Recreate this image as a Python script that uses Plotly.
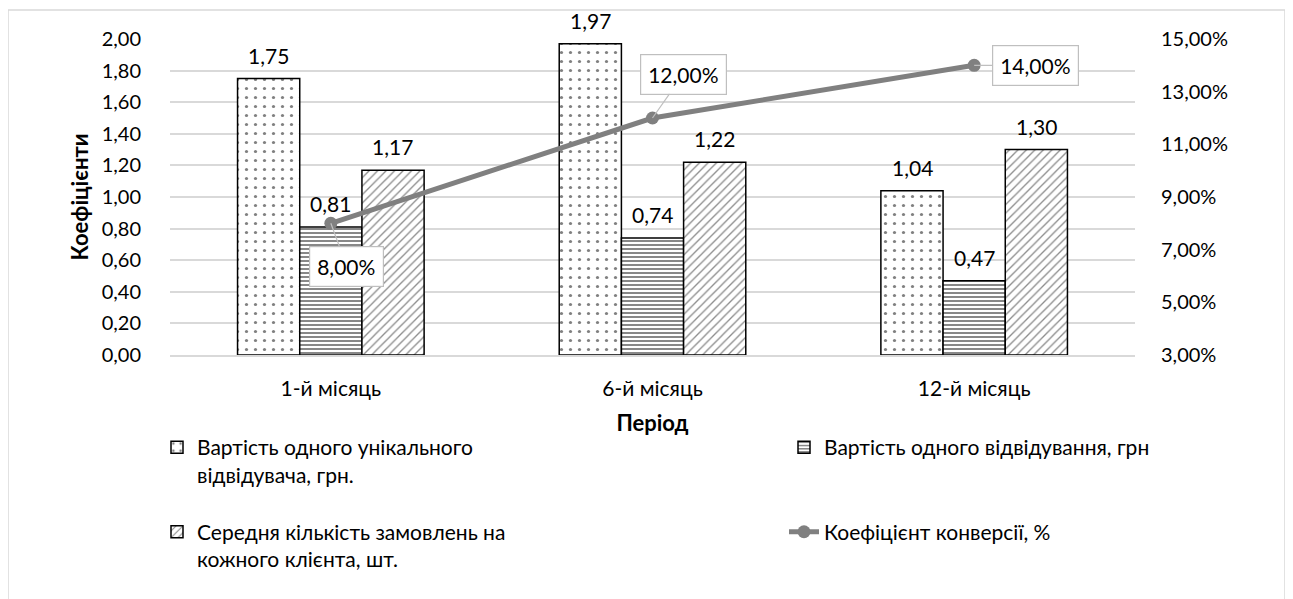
import plotly.graph_objects as go

categories = ["1-й місяць", "6-й місяць", "12-й місяць"]
unique_visitor_cost = [1.75, 1.97, 1.04]
visit_cost = [0.81, 0.74, 0.47]
orders_per_client = [1.17, 1.22, 1.30]
conversion_rate = [0.08, 0.12, 0.14]

series_names = [
    "Вартість одного унікального<br>відвідувача, грн.",
    "Вартість одного відвідування, грн<br>&nbsp;",
    "Середня кількість замовлень на<br>кожного клієнта, шт.",
    "Коефіцієнт конверсії, %<br>&nbsp;",
]
legend_ids = ["legend", "legend2", "legend", "legend2"]

FONT = "Lato"
FS_NUM = 20
FS_LBL = 21
FS_TXT = 21
FS_TITLE = 22

# page coordinates of plot area (body has 8px margin)
OFF = 8
PX0, PX1, PY0, PY1 = 170, 1135, 39, 355
W, H = 1293 - OFF, 599 - OFF
L = PX0 - OFF
T = PY0 - OFF
PW = PX1 - PX0
PH = PY1 - PY0
R = W - L - PW
B = H - T - PH

def px_x(p):
    return (p - PX0) / PW

def px_y(p):
    return (PY1 - p) / PH

fig = go.Figure()

patterns = [
    dict(shape=".", fgcolor="#808080", bgcolor="white", size=9, solidity=0.1, fillmode="replace"),
    dict(shape="-", fgcolor="#7a7a7a", bgcolor="white", size=4, solidity=0.45, fillmode="replace"),
    dict(shape="/", fgcolor="#8c8c8c", bgcolor="white", size=6, solidity=0.22, fillmode="replace"),
]
bar_series = [unique_visitor_cost, visit_cost, orders_per_client]
for i, vals in enumerate(bar_series):
    fig.add_trace(go.Bar(
        x=categories, y=vals, name=series_names[i],
        marker=dict(color="white", line=dict(color="black", width=1.5), pattern=patterns[i]),
        yaxis="y", legend=legend_ids[i], legendgroup=f"g{i}",
    ))

fig.add_trace(go.Scatter(
    x=categories, y=conversion_rate, name=series_names[3], yaxis="y2",
    mode="lines+markers",
    line=dict(color="#808080", width=5),
    marker=dict(color="#808080", size=13),
    legend=legend_ids[3], legendgroup="g3",
))

annotations = []
offsets = [-62, 0, 62]
for i, vals in enumerate(bar_series):
    for c, v in zip(categories, vals):
        annotations.append(dict(
            x=c, y=v, xref="x", yref="y", text=f"{v:.2f}".replace(".", ","),
            showarrow=False, xshift=offsets[i], yshift=9, yanchor="bottom",
            font=dict(family=FONT, size=FS_LBL, color="black"),
        ))

callout_offsets = [(16, 43), (31, -44), (61, 0)]
for c, v, (ax, ay) in zip(categories, conversion_rate, callout_offsets):
    annotations.append(dict(
        x=c, y=v, xref="x", yref="y2", text=f"{v*100:.2f}%".replace(".", ","),
        showarrow=True, arrowhead=0, arrowwidth=1.2, arrowcolor="#bfbfbf",
        ax=ax, ay=ay, bgcolor="white", bordercolor="#bfbfbf", borderwidth=1.2, borderpad=7,
        font=dict(family=FONT, size=FS_LBL, color="black"),
    ))

legend_common = dict(
    orientation="v", xanchor="left", yanchor="top", valign="top",
    font=dict(family=FONT, size=FS_TXT, color="black"), traceorder="grouped",
    tracegroupgap=27, bgcolor="rgba(0,0,0,0)",
)

fig.update_layout(
    width=W, height=H,
    margin=dict(l=L, r=R, t=T, b=B, autoexpand=False),
    paper_bgcolor="white", plot_bgcolor="white",
    separators=", ",
    font=dict(family=FONT, size=FS_NUM, color="black"),
    barmode="group", bargap=0.42, bargroupgap=0,
    xaxis=dict(
        showline=True, linecolor="#d9d9d9", linewidth=1.5, ticks="",
        tickfont=dict(size=FS_TXT), ticklabelstandoff=14,
        title=dict(text="<b>Період</b>", font=dict(size=FS_TITLE), standoff=17),
    ),
    yaxis=dict(
        range=[0, 2], dtick=0.2, tickformat=".2f", showgrid=True, gridcolor="#d9d9d9",
        gridwidth=1.5, zeroline=False, ticklabelstandoff=28,
        tickfont=dict(size=FS_NUM),
        title=dict(text="<b>Коефіцієнти</b>", font=dict(size=FS_TITLE), standoff=6),
    ),
    yaxis2=dict(
        range=[0.03, 0.15], tick0=0.03, dtick=0.02, tickformat=".2%", overlaying="y",
        side="right", showgrid=False, zeroline=False, ticklabelstandoff=25,
        tickfont=dict(size=FS_NUM),
    ),
    legend=dict(x=px_x(157), y=px_y(427), **legend_common),
    legend2=dict(x=px_x(784), y=px_y(427), **legend_common),
    annotations=annotations,
    shapes=[dict(
        type="rect", xref="paper", yref="paper",
        x0=px_x(8), x1=px_x(1285), y0=px_y(610), y1=px_y(10),
        line=dict(color="#d9d9d9", width=1.5), fillcolor="rgba(0,0,0,0)", layer="below",
    )],
)

fig.write_html("out.html")
